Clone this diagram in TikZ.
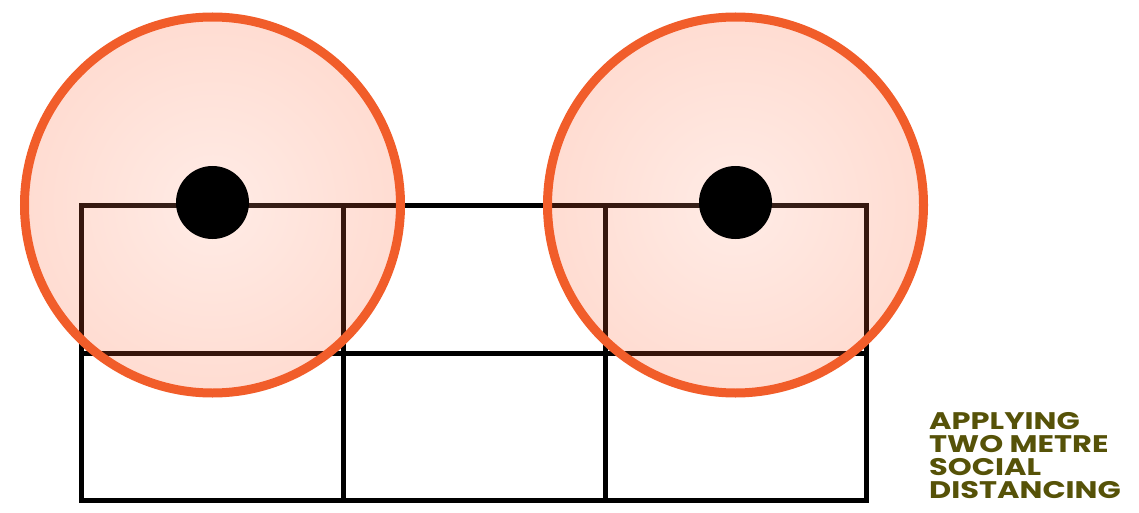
\documentclass[tikz,border=0pt]{standalone}
\usepackage{fontspec}
\setmainfont{Poppins}
\definecolor{ringorange}{RGB}{241,93,42}
\definecolor{tintorange}{RGB}{255,90,40}
\definecolor{olive}{RGB}{86,82,8}
\newcommand{\widecap}[1]{\scalebox{1.27}[1]{#1}}
\begin{document}
\begin{tikzpicture}[x=1pt,y=-1pt,
  gridline/.style={line width=5pt,black,line cap=rect},
  zone/.style={circle,draw=ringorange,line width=9pt,minimum size=376pt,inner sep=0pt},
  person/.style={circle,fill=black,minimum size=73pt,inner sep=0pt},
  caption/.style={anchor=base west,inner sep=0pt,text=olive,font=\bfseries\fontsize{24}{23}\selectfont}]
\useasboundingbox (0,0) rectangle (1139,513);
% grid coordinates
\coordinate (a0) at (81.5,205);   \coordinate (a1) at (343.5,205);
\coordinate (a2) at (605.5,205);  \coordinate (a3) at (866,205);
\coordinate (b0) at (81.5,353);   \coordinate (b1) at (343.5,353);
\coordinate (b2) at (605.5,353);  \coordinate (b3) at (866,353);
\coordinate (c0) at (81.5,500.5); \coordinate (c1) at (343.5,500.5);
\coordinate (c2) at (605.5,500.5);\coordinate (c3) at (866,500.5);
\draw[gridline] (a0) -- (a3);
\draw[gridline] (b0) -- (b3);
\draw[gridline] (c0) -- (c3);
\draw[gridline] (a0) -- (c0);
\draw[gridline] (a1) -- (c1);
\draw[gridline] (a2) -- (c2);
\draw[gridline] (a3) -- (c3);
% tinted zones
\shade[inner color=tintorange!55!white, outer color=tintorange, opacity=0.21] (212.5,205) circle (188);
\shade[inner color=tintorange!55!white, outer color=tintorange, opacity=0.21] (735.5,205) circle (188);
\node[zone] (zl) at (212.5,205) {};
\node[zone] (zr) at (735.5,205) {};
\node[person] (pl) at (212.5,202.5) {};
\node[person] (pr) at (735.5,202.5) {};
% caption
\node[caption] (t1) at (929,429) {\widecap{APPLYING}};
\node[caption] (t2) at (929,452) {\widecap{TWO METRE}};
\node[caption] (t3) at (929,475) {\widecap{SOCIAL}};
\node[caption] (t4) at (929,498) {\widecap{DISTANCING}};
\end{tikzpicture}
\end{document}
